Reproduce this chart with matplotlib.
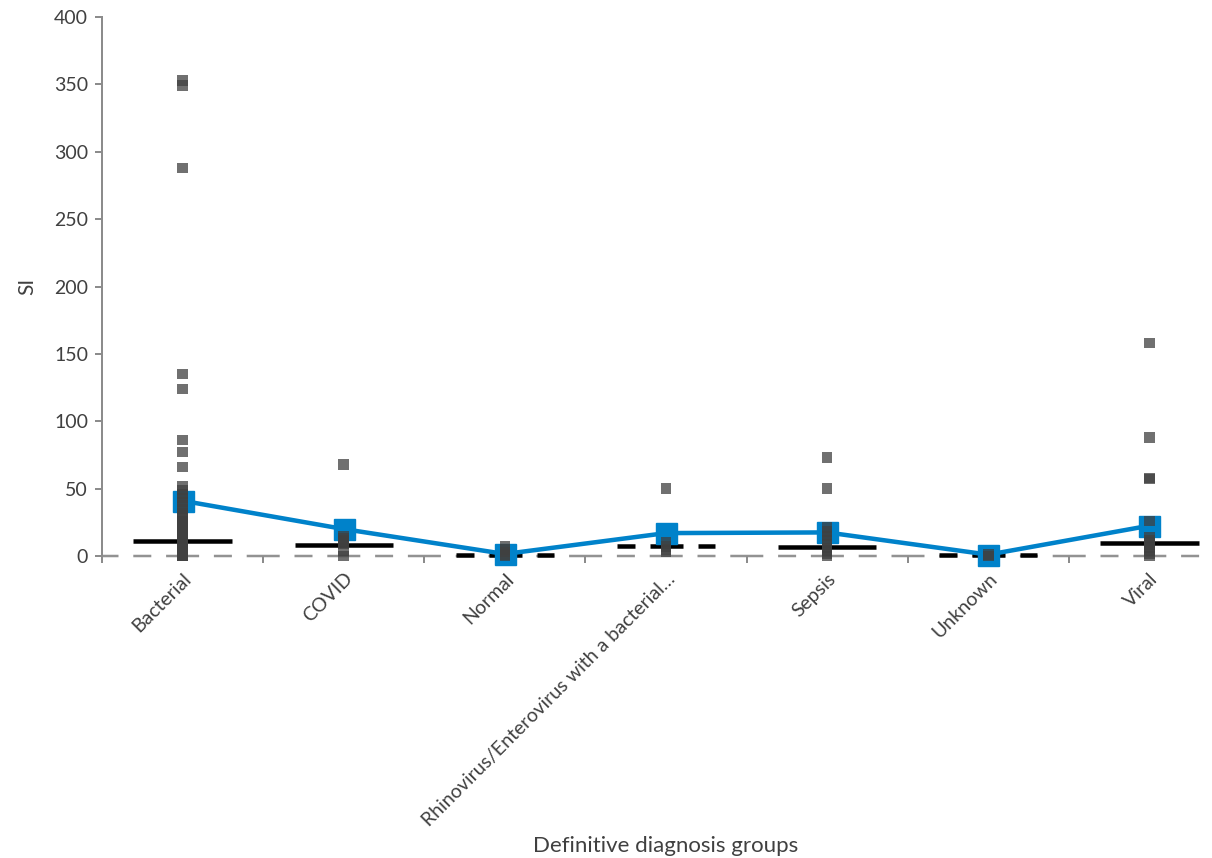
import numpy as np
import matplotlib.pyplot as plt

plt.rcParams['font.family'] = ['Lato', 'DejaVu Sans']
plt.rcParams['lines.scale_dashes'] = False

groups = ['Bacterial', 'COVID', 'Normal',
          'Rhinovirus/Enterovirus with a bacterial\u2026',
          'Sepsis', 'Unknown', 'Viral']

# individual SI values per diagnosis group
bacterial = [353, 349, 288, 135, 124, 86, 77, 66,
             52, 49, 46, 43, 40, 38, 35, 32, 30, 28, 26, 24, 22, 20, 18, 17,
             15, 14, 13, 12, 11, 10, 10, 9, 8, 8, 7, 6, 6, 5, 5, 4, 4, 3, 3,
             2, 2, 1, 1, 1, 0, 0, 0]
covid = [68, 15, 13, 12, 11, 10, 9, 4, 0]
normal = [7, 5, 3, 1, 0]
rhino_bact = [50, 10, 7, 5, 3]
sepsis = [73, 50, 21, 18, 15, 12, 9, 6, 4, 2, 0]
unknown = [1, 0]
viral = [158, 88, 58, 57, 26, 14, 12, 10, 8, 6, 4, 2, 0]
points = [bacterial, covid, normal, rhino_bact, sepsis, unknown, viral]

group_mean = [41, 20, 1.5, 17, 17.5, 1, 22.5]
group_median = [11, 8.2, 0.7, 7.4, 6.9, 0.8, 9.4]
median_dashed = [False, False, True, True, False, True, False]

DPI = 100
px = 72 / DPI  # one pixel in points

BLUE = '#0082CA'
AXIS_GREY = '#8c8c8c'
TEXT = '#404040'

fig = plt.figure(figsize=(12.12, 8.58), dpi=DPI)
# plot area runs a little past the right edge of the figure
ax = fig.add_axes([102 / 1212, 1 - 556 / 858, 1128 / 1212, 539 / 858])

x = np.arange(len(groups))

# dashed zero line, long dash on every category centre / boundary
ax.axhline(0, color='#929292', lw=2.5 * px, zorder=1, clip_on=False,
           linestyle=(16.5 * px, (33 * px, 14.8 * px, 18 * px, 14.8 * px)))

# medians
half = 0.305
for i, m in enumerate(group_median):
    ls = (0, (18 * px, 15 * px, 33 * px, 15 * px)) if median_dashed[i] else '-'
    ax.plot([i - half, i + half], [m, m], color='black', lw=4.5 * px,
            linestyle=ls, solid_capstyle='butt', dash_capstyle='butt',
            zorder=2, clip_on=False)

# means
ax.plot(x, group_mean, color=BLUE, lw=4.5 * px, marker='s', ms=21 * px,
        mfc=BLUE, mec=BLUE, zorder=3, clip_on=False)

# individual patients
for i, vals in enumerate(points):
    ax.scatter(np.full(len(vals), i), vals, marker='s', s=(10.5 * px) ** 2,
               c='#404040', alpha=0.75, edgecolors='none',
               zorder=4, clip_on=False)

ax.set_xlim(-0.5, len(groups) - 0.5)
ax.set_ylim(0, 400)
ax.set_yticks(range(0, 401, 50))

for side in ('top', 'right', 'bottom'):
    ax.spines[side].set_visible(False)
ax.spines['left'].set_color(AXIS_GREY)
ax.spines['left'].set_linewidth(2 * px)

ax.tick_params(axis='y', direction='out', length=7 * px, width=2 * px,
               color=AXIS_GREY, labelsize=14, labelcolor=TEXT, pad=5)

ax.set_xticks(x)
ax.set_xticklabels(groups, rotation=45, ha='right', rotation_mode='anchor',
                   fontsize=14, color=TEXT)
ax.tick_params(axis='x', which='major', length=0, pad=10)
ax.set_xticks(np.arange(-0.5, len(groups), 1), minor=True)
ax.tick_params(axis='x', which='minor', direction='out', length=7 * px,
               width=2 * px, color=AXIS_GREY)

ax.set_ylabel('SI', fontsize=15, color=TEXT)
ax.yaxis.set_label_coords(-0.057, 0.5)
ax.set_xlabel('Definitive diagnosis groups', fontsize=16, color=TEXT)
ax.xaxis.set_label_coords(0.5, -0.52)

fig.savefig('out.png', dpi=DPI)
